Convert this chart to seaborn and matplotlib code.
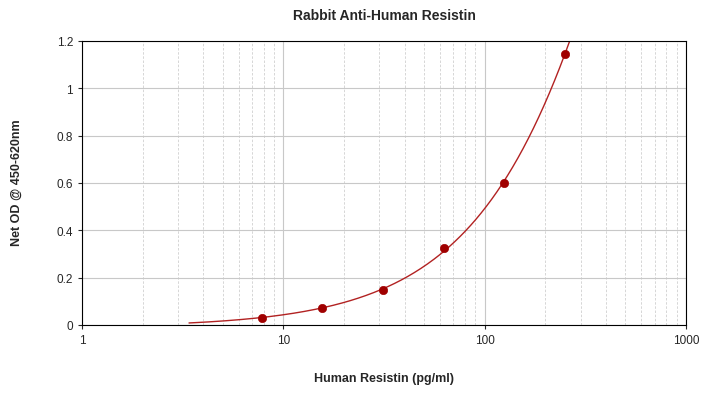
import numpy as np
import matplotlib
matplotlib.use("Agg")
import matplotlib.pyplot as plt
import seaborn as sns
import pandas as pd
from matplotlib.ticker import FixedLocator, LogLocator, NullFormatter

conc = [7.8, 15.6, 31.25, 62.5, 125, 250]
od = [0.03, 0.07, 0.15, 0.325, 0.60, 1.145]
xticks = [1, 10, 100, 1000]
xticklabels = ["1", "10", "100", "1000"]
yticks = [0, 0.2, 0.4, 0.6, 0.8, 1, 1.2]
yticklabels = ["0", "0.2", "0.4", "0.6", "0.8", "1", "1.2"]

sns.set_style("white")
plt.rcParams['font.family'] = ['Liberation Sans', 'DejaVu Sans']
fig = plt.figure(figsize=(7.04, 4.06), dpi=100)
ax = fig.add_axes([82/704, 1-326/406, (686-82)/704, (326-42)/406])

# fitted curve from the data (quadratic fit)
coef = np.polyfit(conc, od, 2)
xs = np.logspace(np.log10(3.4), np.log10(300), 300)
ys = np.polyval(coef, xs)
curve = pd.DataFrame({"x": xs, "y": ys})
sns.lineplot(data=curve, x="x", y="y", ax=ax, color="#b22222", linewidth=1)
sns.scatterplot(x=conc, y=od, ax=ax, color="#a00000", s=36, edgecolor="#a00000", zorder=5)

ax.set_xscale("log")
ax.set_xlim(1, 1000)
ax.set_ylim(0, 1.2)
ax.xaxis.set_major_locator(FixedLocator(xticks))
ax.set_xticklabels(xticklabels)
ax.xaxis.set_minor_locator(LogLocator(base=10, subs=np.arange(2, 10)))
ax.xaxis.set_minor_formatter(NullFormatter())
ax.set_yticks(yticks)
ax.set_yticklabels(yticklabels)
ax.grid(True, which="major", color="#c8c8c8", linewidth=0.8)
ax.grid(True, which="minor", axis="x", color="#d0d0d0", linewidth=0.6, linestyle=(0, (3, 2)))
for s in ax.spines.values():
    s.set_color("black"); s.set_linewidth(0.8)
ax.tick_params(axis="both", labelsize=8.5, length=3, direction="out", bottom=True, left=True)
ax.set_xlabel("")
ax.set_ylabel("")
fig.text(384/704, 1-379/406, "Human Resistin (pg/ml)", fontsize=9, fontweight="bold",
         ha="center", va="center")
fig.text(17/704, 1-183/406, "Net OD @ 450-620nm", fontsize=9, fontweight="bold",
         ha="center", va="center", rotation=90)
fig.text(384/704, 1-16/406, "Rabbit Anti-Human Resistin", fontsize=10, fontweight="bold",
         ha="center", va="center")
fig.savefig("out.png", dpi=100)
